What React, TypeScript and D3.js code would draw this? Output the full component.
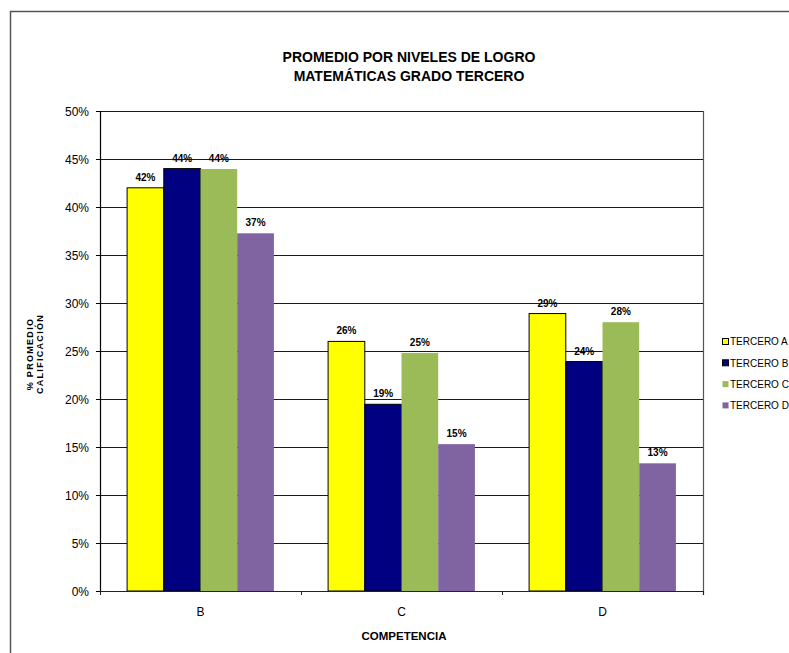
import React from "react";
import * as d3 from "d3";

const categories = ["B", "C", "D"];
const seriesNames = ["TERCERO A", "TERCERO B", "TERCERO C", "TERCERO D"];
const terceroA = [0.42, 0.26, 0.289];
const terceroB = [0.44, 0.1945, 0.239];
const terceroC = [0.4396, 0.248, 0.28];
const terceroD = [0.3726, 0.153, 0.133];
const yTicks = [0, 0.05, 0.1, 0.15, 0.2, 0.25, 0.3, 0.35, 0.4, 0.45, 0.5];
const seriesColors = ["#FFFF00", "#000080", "#9BBB59", "#8064A2"];
const seriesStrokes = ["#000", "#000", "none", "none"];

const allSeries = [terceroA, terceroB, terceroC, terceroD];

const W = 789;
const H = 653;
const plot = { left: 100, right: 703, top: 111, bottom: 591 };
const FONT = "'Liberation Sans', Arial, sans-serif";

export default function App() {
  const x0 = d3
    .scaleBand<string>()
    .domain(categories)
    .range([plot.left, plot.right])
    .paddingInner(0)
    .paddingOuter(0);
  const x1 = d3
    .scaleBand<string>()
    .domain(seriesNames)
    .range([0, x0.bandwidth()])
    .paddingInner(0)
    .paddingOuter(0.738);
  const y = d3.scaleLinear().domain([0, 0.5]).range([plot.bottom, plot.top]);
  const pct = d3.format(".0%");

  const boundaries = [plot.left, ...categories.map((c) => (x0(c) as number) + x0.bandwidth())];

  return (
    <svg
      width={W}
      height={H}
      style={{ position: "absolute", left: 0, top: 0, background: "#fff" }}
      fontFamily={FONT}
    >
      <rect x={0} y={0} width={W} height={H} fill="#fff" />
      {/* outer chart frame */}
      <rect x={10.5} y={11.5} width={900} height={800} fill="none" stroke="#555" strokeWidth={1.5} />

      {/* title */}
      <text x={409} y={62} textAnchor="middle" fontSize={14} fontWeight="bold" fill="#000">
        PROMEDIO POR NIVELES DE LOGRO
      </text>
      <text x={409} y={81} textAnchor="middle" fontSize={14} fontWeight="bold" fill="#000">
        MATEMÁTICAS GRADO TERCERO
      </text>

      {/* gridlines and y ticks */}
      {yTicks.map((t) => {
        const yy = Math.round(y(t)) + 0.5;
        return (
          <g key={t}>
            {t > 0 && (
              <line x1={plot.left} x2={plot.right} y1={yy} y2={yy} stroke="#1a1a1a" strokeWidth={1.2} />
            )}
            <line x1={plot.left - 4} x2={plot.left} y1={yy} y2={yy} stroke="#000" />
            <text
              x={plot.left - 11}
              y={yy + 4}
              textAnchor="end"
              fontSize={12}
              fill="#000"
            >
              {pct(t)}
            </text>
          </g>
        );
      })}

      {/* bars */}
      {categories.map((c, ci) => (
        <g key={c} transform={`translate(${x0(c)},0)`}>
          {seriesNames.map((s, si) => {
            const v = allSeries[si][ci];
            const bx = x1(s) as number;
            const by = y(v);
            return (
              <g key={s}>
                <rect
                  x={bx}
                  y={by}
                  width={x1.bandwidth()}
                  height={plot.bottom - by}
                  fill={seriesColors[si]}
                  stroke={seriesStrokes[si]}
                  strokeWidth={1}
                />
                <text
                  x={bx + x1.bandwidth() / 2}
                  y={by - 7}
                  textAnchor="middle"
                  fontSize={10}
                  fontWeight="bold"
                  fill="#000"
                >
                  {pct(v)}
                </text>
              </g>
            );
          })}
        </g>
      ))}

      {/* axes */}
      <line x1={plot.left + 0.5} x2={plot.left + 0.5} y1={plot.top} y2={plot.bottom} stroke="#000" strokeWidth={1.2} />
      <line x1={plot.right + 0.5} x2={plot.right + 0.5} y1={plot.top} y2={plot.bottom + 4} stroke="#555" strokeWidth={1.2} />
      <line x1={plot.left} x2={plot.right} y1={plot.bottom + 0.5} y2={plot.bottom + 0.5} stroke="#222" strokeWidth={1.2} />
      {boundaries.map((bx, i) => (
        <line key={i} x1={bx + 0.5} x2={bx + 0.5} y1={plot.bottom} y2={plot.bottom + 4} stroke="#222" />
      ))}
      {categories.map((c) => (
        <text
          key={c}
          x={(x0(c) as number) + x0.bandwidth() / 2}
          y={616}
          textAnchor="middle"
          fontSize={12}
          fill="#000"
        >
          {c}
        </text>
      ))}

      {/* axis titles */}
      <text x={404} y={640} textAnchor="middle" fontSize={11.5} fontWeight="bold" fill="#000">
        COMPETENCIA
      </text>
      <g transform="translate(33,354) rotate(-90)">
        <text x={0} y={0} textAnchor="middle" fontSize={9} fontWeight="bold" letterSpacing={1.3} fill="#000">
          % PROMEDIO
        </text>
        <text x={0} y={10} textAnchor="middle" fontSize={9} fontWeight="bold" letterSpacing={1.3} fill="#000">
          CALIFICACIÓN
        </text>
      </g>

      {/* legend */}
      {seriesNames.map((s, si) => {
        const ly = 341.5 + si * 21.3;
        return (
          <g key={s}>
            <rect
              x={722.5}
              y={ly - 3}
              width={6}
              height={6}
              fill={seriesColors[si]}
              stroke={seriesStrokes[si]}
              strokeWidth={1}
            />
            <text x={730} y={ly + 3.8} fontSize={10} fill="#000">
              {s}
            </text>
          </g>
        );
      })}
    </svg>
  );
}
